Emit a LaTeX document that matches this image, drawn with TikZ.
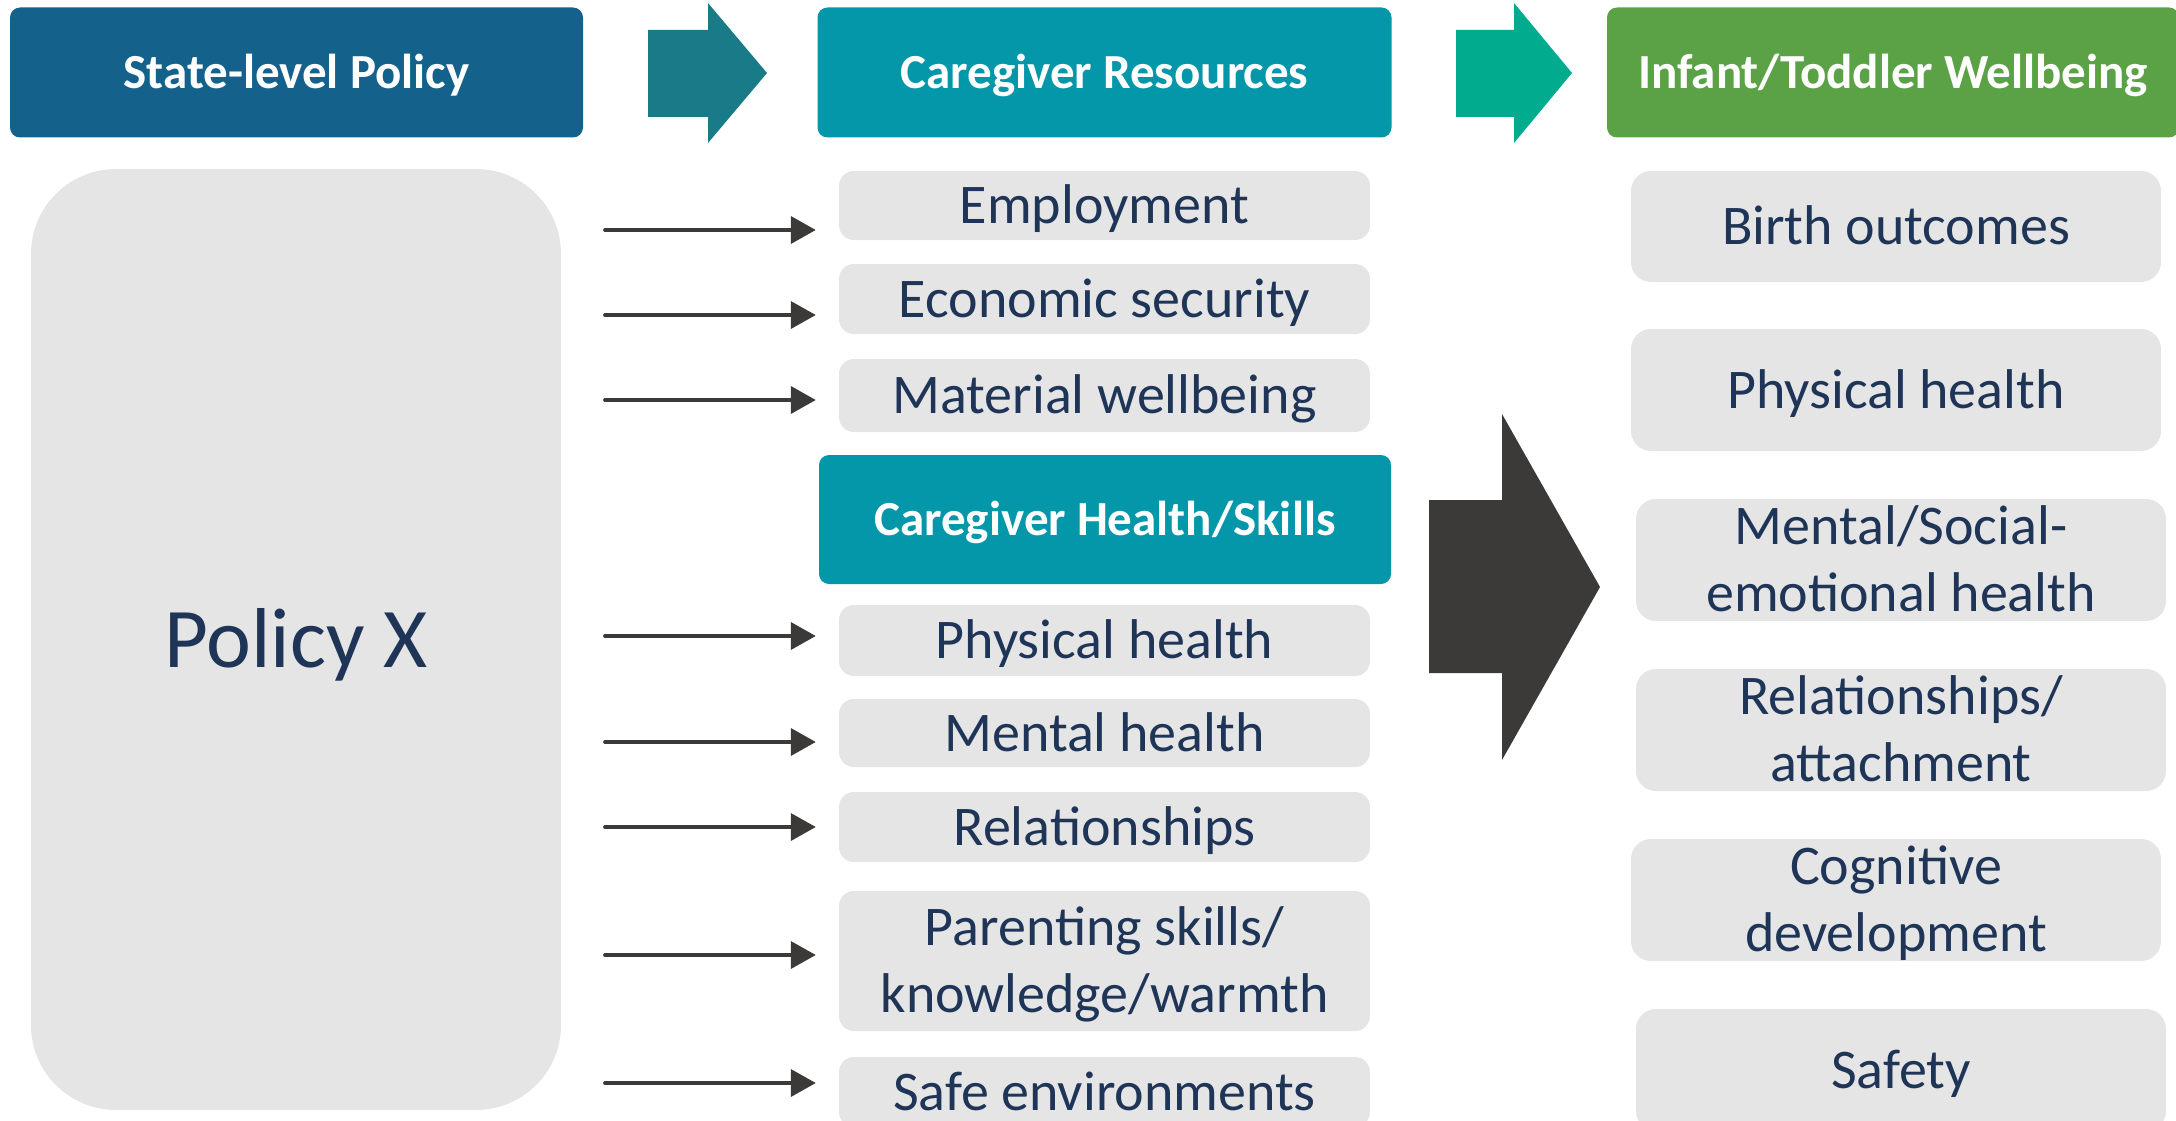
\documentclass[tikz,border=0pt]{standalone}
\usepackage{fontspec}
\setmainfont{Carlito}
\usetikzlibrary{arrows.meta}
\definecolor{statebl}{HTML}{14628C}
\definecolor{arrowA}{HTML}{197B88}
\definecolor{caretl}{HTML}{0397A9}
\definecolor{arrowB}{HTML}{00AB8E}
\definecolor{infgrn}{HTML}{5BA247}
\definecolor{darkar}{HTML}{3B3A38}
\definecolor{boxgray}{HTML}{E5E5E5}
\definecolor{navytx}{HTML}{1F3558}
\begin{document}
\begin{tikzpicture}[x=1pt,y=-1pt,
  hdr/.style={rounded corners=10pt, inner sep=0pt, text=white,
    font=\fontsize{49}{59}\selectfont\bfseries, align=center,
    text height=31.5pt, text depth=0pt},
  item/.style={fill=boxgray, rounded corners=15pt, inner sep=0pt, text=navytx,
    font=\fontsize{56}{67}\selectfont, align=center,
    text height=36pt, text depth=0pt},
  itemtwo/.style={item, text height=103pt},
  ritem/.style={item, rounded corners=20pt, minimum width=530pt, minimum height=122pt},
  ritemtwo/.style={ritem, text height=103pt},
  mitem/.style={item, minimum width=531pt},
  conn/.style={draw=darkar, line width=3.8pt, line cap=round,
    -{Triangle[length=25pt,width=27pt]}, shorten >=23pt},
]
\useasboundingbox (0,0) rectangle (2176,1121);
\clip (0,0) rectangle (2176,1121);

% headers
\node[hdr, fill=statebl, minimum width=573pt, minimum height=130pt] (hstate) at (296.5,72.5) {State-level Policy};
\node[hdr, fill=caretl, minimum width=574pt, minimum height=130pt] (hres) at (1104.5,72.5) {Caregiver Resources};
\node[hdr, fill=infgrn, minimum width=572pt, minimum height=130pt] (hinf) at (1893,72.5) {Infant/Toddler Wellbeing};
\node[hdr, fill=caretl, minimum width=572pt, minimum height=129pt] (hhealth) at (1105,519.5) {Caregiver Health/Skills};

% block arrows
\fill[arrowA] (648,30) -- (708,30) -- (708,3) -- (767,73) -- (708,143) -- (708,117) -- (648,117) -- cycle;
\fill[arrowB] (1456,30) -- (1514,30) -- (1514,3) -- (1572,73) -- (1514,143) -- (1514,117) -- (1456,117) -- cycle;
\fill[darkar] (1429,500) -- (1502,500) -- (1502,414) -- (1600,587) -- (1502,760) -- (1502,673) -- (1429,673) -- cycle;

% policy box
\node[fill=boxgray, rounded corners=85pt, inner sep=0pt, minimum width=530pt, minimum height=941pt,
  text=navytx, font=\fontsize{85}{100}\selectfont, text height=55pt, text depth=0pt] (policy) at (296,639.5) {Policy X};

% middle column
\node[mitem, minimum height=69pt] (e1) at (1104.5,205.5) {Employment};
\node[mitem, minimum height=70pt] (e2) at (1104.5,299) {Economic security};
\node[mitem, minimum height=73pt] (e3) at (1104.5,395.5) {Material wellbeing};
\node[mitem, minimum height=71pt] (e4) at (1104.5,640.5) {Physical health};
\node[mitem, minimum height=68pt] (e5) at (1104.5,733) {Mental health};
\node[mitem, minimum height=70pt] (e6) at (1104.5,827) {Relationships};
\node[itemtwo, minimum width=531pt, minimum height=140pt] (e7) at (1104.5,961) {Parenting skills/\\knowledge/warmth};
\node[mitem, minimum height=70pt] (e8) at (1104.5,1092) {Safe environments};

% right column
\node[ritem, minimum height=111pt] (r1) at (1896,226.5) {Birth outcomes};
\node[ritem] (r2) at (1896,390) {Physical health};
\node[ritemtwo] (r3) at (1901,560) {Mental/Social-\\emotional health};
\node[ritemtwo] (r4) at (1901,730) {Relationships/\\attachment};
\node[ritemtwo] (r5) at (1896,900) {Cognitive\\development};
\node[ritem] (r6) at (1901,1070) {Safety};

% arrow starts
\coordinate (s1) at (605,230);
\coordinate (s2) at (605,315);
\coordinate (s3) at (605,400);
\coordinate (s4) at (605,636);
\coordinate (s5) at (605,742);
\coordinate (s6) at (605,827);
\coordinate (s7) at (605,955);
\coordinate (s8) at (605,1083);
\draw[conn] (s1) -- (s1 -| e1.west);
\draw[conn] (s2) -- (s2 -| e2.west);
\draw[conn] (s3) -- (s3 -| e3.west);
\draw[conn] (s4) -- (s4 -| e4.west);
\draw[conn] (s5) -- (s5 -| e5.west);
\draw[conn] (s6) -- (s6 -| e6.west);
\draw[conn] (s7) -- (s7 -| e7.west);
\draw[conn] (s8) -- (s8 -| e8.west);
\end{tikzpicture}
\end{document}
